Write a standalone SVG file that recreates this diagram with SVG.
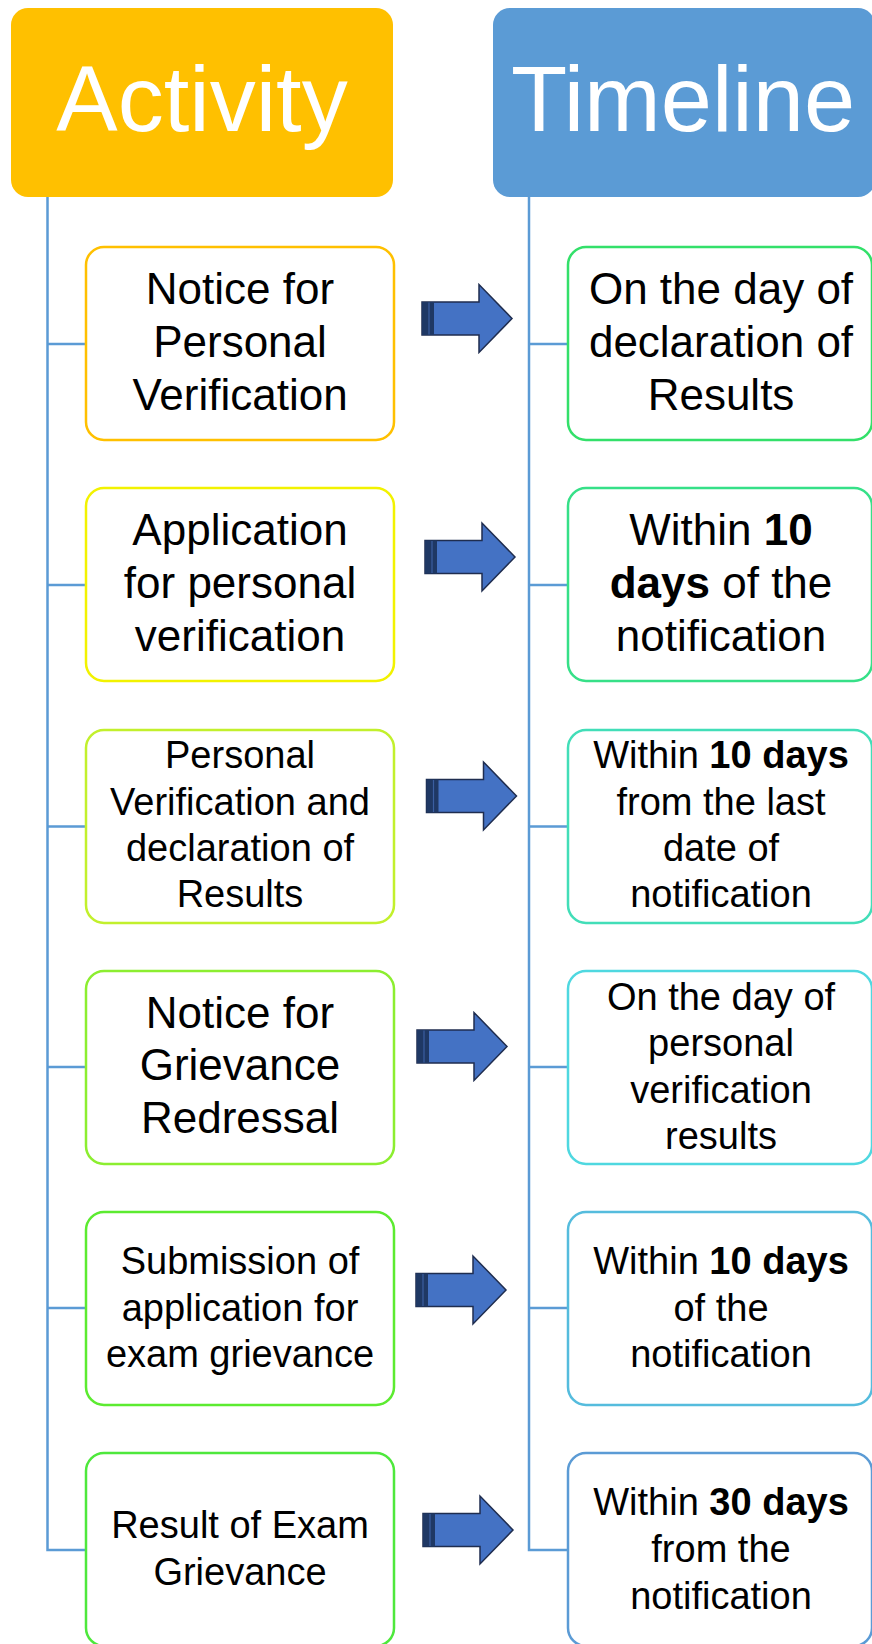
<svg xmlns="http://www.w3.org/2000/svg" xmlns:xlink="http://www.w3.org/1999/xlink" width="872" height="1644" viewBox="0 0 872 1644">
<style>
text{font-family:"Liberation Sans",Arial,sans-serif;fill:#000;text-anchor:middle}
.hdr{font-size:92px;fill:#fff}
.big{font-size:44px}
.sm{font-size:38px}
.box{fill:#fff;stroke-width:2.5}
.ln{stroke:#5B9BD5;stroke-width:2.5;fill:none}
.b{font-weight:bold}
</style>
<defs>
<g id="arrow">
<path d="M0,-16.5 H57 V-34 L90,0 L57,34 V16.5 H0 Z" fill="#4472C4" stroke="#1F2D4F" stroke-width="1.5" stroke-linejoin="miter"/>
<rect x="0" y="-16.5" width="12" height="33" fill="#1F3864"/>
<line x1="7" y1="-16" x2="7" y2="16" stroke="#3B5EA0" stroke-width="1.2"/>
</g>
</defs>
<rect width="872" height="1644" fill="#fff"/>

<g id="connectors">
<path class="ln" d="M47.5,197 V1550 H86"/>
<path class="ln" d="M47.5,344 H86 M47.5,585 H86 M47.5,826.5 H86 M47.5,1067 H86 M47.5,1308 H86"/>
<path class="ln" d="M529,197 V1550 H568"/>
<path class="ln" d="M529,344 H568 M529,585 H568 M529,826.5 H568 M529,1067 H568 M529,1308 H568"/>
<use xlink:href="#arrow" x="422" y="318.5"/>
<use xlink:href="#arrow" x="425" y="557"/>
<use xlink:href="#arrow" x="426.5" y="796"/>
<use xlink:href="#arrow" x="417" y="1046.5"/>
<use xlink:href="#arrow" x="416" y="1290"/>
<use xlink:href="#arrow" x="423" y="1530"/>
</g>

<g id="header-activity">
<rect x="11" y="8" width="382" height="189" rx="17" fill="#FFC000"/>
<text class="hdr" x="202" y="131">Activity</text>
</g>
<g id="header-timeline">
<rect x="493" y="8" width="382" height="189" rx="17" fill="#5B9BD5"/>
<text class="hdr" x="683" y="131">Timeline</text>
</g>

<g id="act1">
<rect class="box" x="86" y="247" width="308" height="193" rx="18" stroke="#FFC000"/>
<text class="big" x="240" y="304">Notice for</text>
<text class="big" x="240" y="357">Personal</text>
<text class="big" x="240" y="410">Verification</text>
</g>
<g id="time1">
<rect class="box" x="568" y="247" width="304" height="193" rx="18" stroke="#33E06A"/>
<text class="big" x="721" y="304">On the day of</text>
<text class="big" x="721" y="357">declaration of</text>
<text class="big" x="721" y="410">Results</text>
</g>

<g id="act2">
<rect class="box" x="86" y="488" width="308" height="193" rx="18" stroke="#F2F200"/>
<text class="big" x="240" y="545">Application</text>
<text class="big" x="240" y="598">for personal</text>
<text class="big" x="240" y="651">verification</text>
</g>
<g id="time2">
<rect class="box" x="568" y="488" width="304" height="193" rx="18" stroke="#36E088"/>
<text class="big" x="721" y="545">Within <tspan class="b">10</tspan></text>
<text class="big" x="721" y="598"><tspan class="b">days</tspan> of the</text>
<text class="big" x="721" y="651">notification</text>
</g>

<g id="act3">
<rect class="box" x="86" y="730" width="308" height="193" rx="18" stroke="#C2F02C"/>
<text class="sm" x="240" y="768">Personal</text>
<text class="sm" x="240" y="815">Verification and</text>
<text class="sm" x="240" y="861">declaration of</text>
<text class="sm" x="240" y="907">Results</text>
</g>
<g id="time3">
<rect class="box" x="568" y="730" width="304" height="193" rx="18" stroke="#42DEB8"/>
<text class="sm" x="721" y="768">Within <tspan class="b">10 days</tspan></text>
<text class="sm" x="721" y="815">from the last</text>
<text class="sm" x="721" y="861">date of</text>
<text class="sm" x="721" y="907">notification</text>
</g>

<g id="act4">
<rect class="box" x="86" y="971" width="308" height="193" rx="18" stroke="#8CEE30"/>
<text class="big" x="240" y="1028">Notice for</text>
<text class="big" x="240" y="1080">Grievance</text>
<text class="big" x="240" y="1133">Redressal</text>
</g>
<g id="time4">
<rect class="box" x="568" y="971" width="304" height="193" rx="18" stroke="#4FD8E0"/>
<text class="sm" x="721" y="1010">On the day of</text>
<text class="sm" x="721" y="1056">personal</text>
<text class="sm" x="721" y="1103">verification</text>
<text class="sm" x="721" y="1149">results</text>
</g>

<g id="act5">
<rect class="box" x="86" y="1212" width="308" height="193" rx="18" stroke="#5CEB30"/>
<text class="sm" x="240" y="1274">Submission of</text>
<text class="sm" x="240" y="1321">application for</text>
<text class="sm" x="240" y="1367">exam grievance</text>
</g>
<g id="time5">
<rect class="box" x="568" y="1212" width="304" height="193" rx="18" stroke="#55BCDD"/>
<text class="sm" x="721" y="1274">Within <tspan class="b">10 days</tspan></text>
<text class="sm" x="721" y="1321">of the</text>
<text class="sm" x="721" y="1367">notification</text>
</g>

<g id="act6">
<rect class="box" x="86" y="1453" width="308" height="193" rx="18" stroke="#4EE83C"/>
<text class="sm" x="240" y="1538">Result of Exam</text>
<text class="sm" x="240" y="1585">Grievance</text>
</g>
<g id="time6">
<rect class="box" x="568" y="1453" width="304" height="193" rx="18" stroke="#5B9BD5"/>
<text class="sm" x="721" y="1515">Within <tspan class="b">30 days</tspan></text>
<text class="sm" x="721" y="1562">from the</text>
<text class="sm" x="721" y="1609">notification</text>
</g>
</svg>
